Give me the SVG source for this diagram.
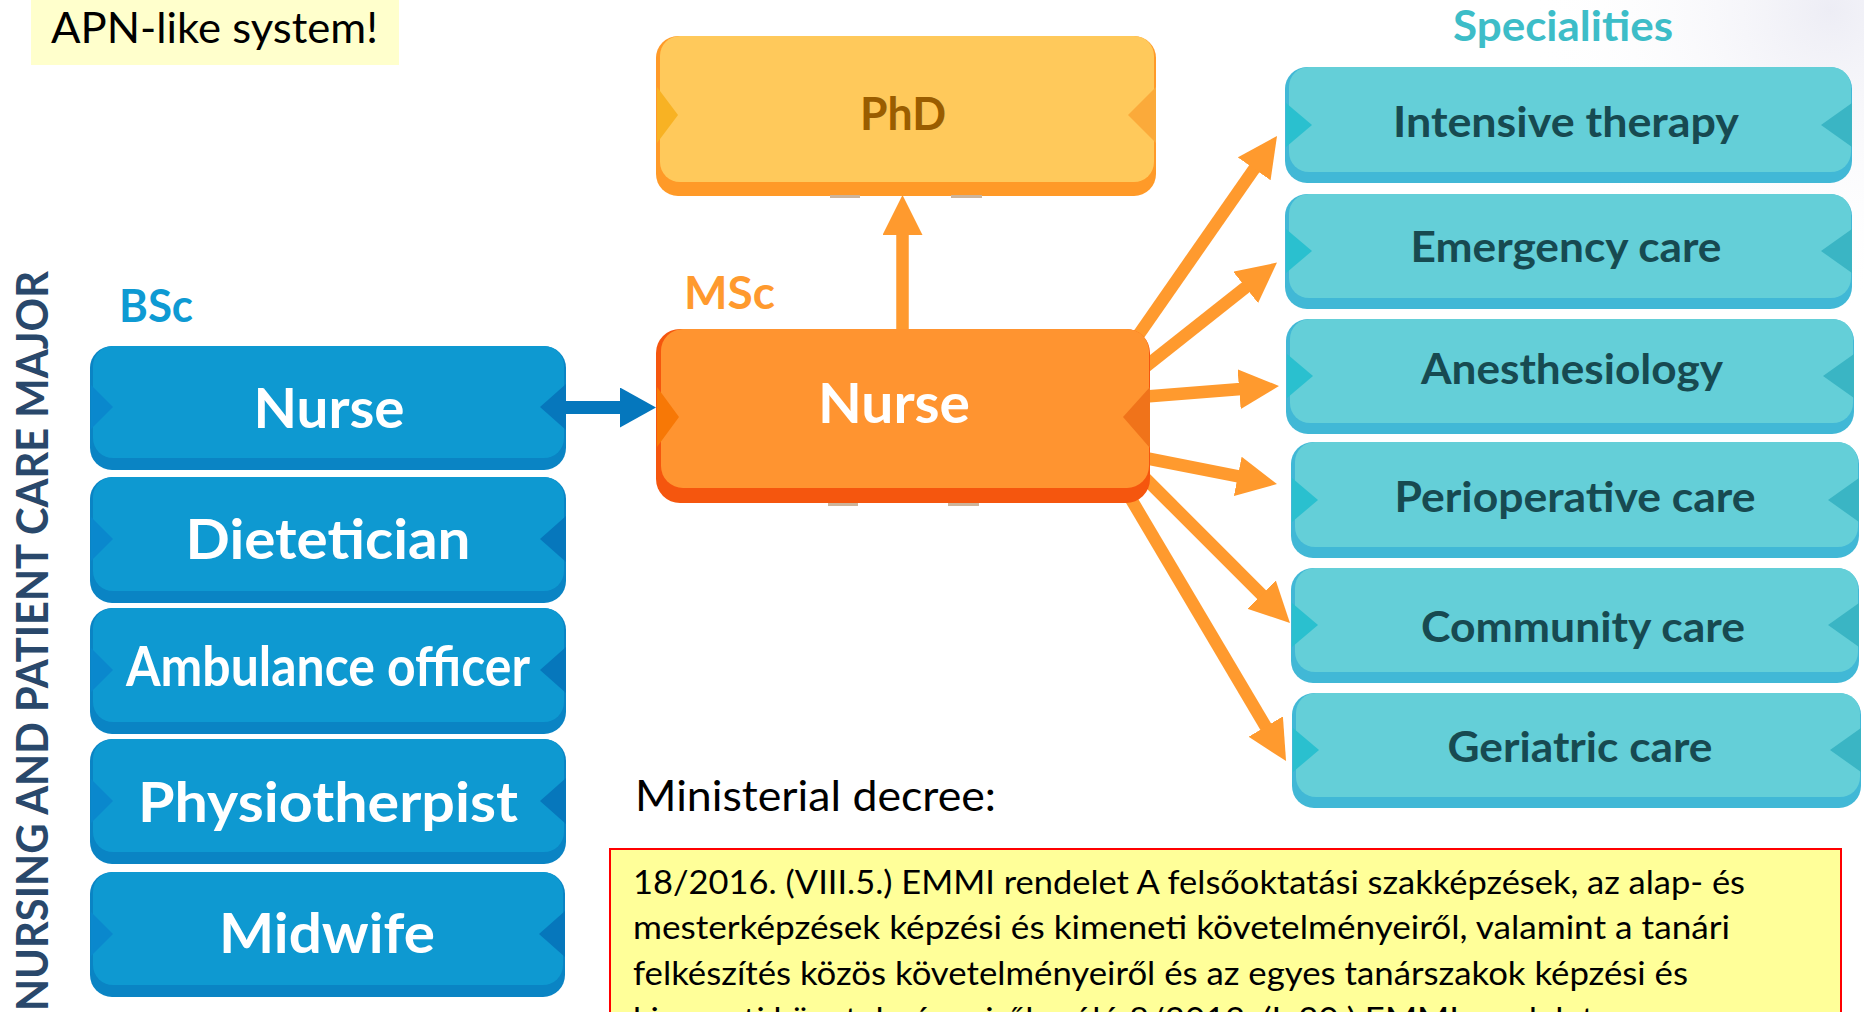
<svg xmlns="http://www.w3.org/2000/svg" width="1864" height="1012" viewBox="0 0 1864 1012">
<defs>
<style>
.bold{font-family:Lato,"Open Sans","Liberation Sans",sans-serif;font-weight:700}
.reg{font-family:Lato,"Open Sans","Liberation Sans",sans-serif;font-weight:400}
.bb{fill:#0A84C4}.bf{fill:#0E99D1}.bl{fill:#0A88CD}.br{fill:#0677BC}
.bt{fill:#FFFFFF;font-size:56px;text-anchor:middle}
.tb{fill:#41B8D6}.tf{fill:#64CFD8}.tl{fill:#2AC0CF}.tr{fill:#3AB5C4}
.tt{fill:#174A51;font-size:42.5px;text-anchor:middle}
.ob{stroke:#FF9A2E;stroke-width:12.5;fill:none}
.ub{stroke:#0577BD;stroke-width:13;fill:none}
.mark{fill:#CDB49A}
</style>
<marker id="mo" markerUnits="userSpaceOnUse" markerWidth="40" markerHeight="40" refX="2" refY="20" orient="auto" viewBox="0 0 40 40"><path d="M0,0 L40,20 L0,40 Z" fill="#FF9A2E"/></marker>
<marker id="mb" markerUnits="userSpaceOnUse" markerWidth="36" markerHeight="40" refX="2" refY="20" orient="auto" viewBox="0 0 36 40"><path d="M0,0 L36,20 L0,40 Z" fill="#0577BD"/></marker>
<radialGradient id="glow" cx="1830" cy="10" r="300" gradientUnits="userSpaceOnUse"><stop offset="0" stop-color="#EDEDF5"/><stop offset="1" stop-color="#FFFFFF" stop-opacity="0"/></radialGradient>
</defs>
<rect x="0" y="0" width="1864" height="1012" fill="#FFFFFF"/>
<rect x="1500" y="0" width="364" height="320" fill="url(#glow)"/>

<g id="apn-note">
<rect x="31" y="0" width="368" height="65" fill="#FFFFCC"/>
<text class="reg" x="51" y="43" font-size="43" textLength="327" lengthAdjust="spacingAndGlyphs" fill="#000000">APN-like system!</text>
</g>

<g id="major-label">
<text class="bold" transform="translate(48,1011) rotate(-90)" font-size="43" textLength="740" lengthAdjust="spacingAndGlyphs" fill="#29486B">NURSING AND PATIENT CARE MAJOR</text>
</g>

<g id="bsc-label"><text class="bold" x="119" y="322" font-size="46" textLength="74" lengthAdjust="spacingAndGlyphs" fill="#0E9AD3">BSc</text></g>
<g id="msc-label"><text class="bold" x="684" y="309" font-size="46" textLength="91" lengthAdjust="spacingAndGlyphs" fill="#FF9A2E">MSc</text></g>
<g id="spec-label"><text class="bold" x="1453" y="41" font-size="42" textLength="220" lengthAdjust="spacingAndGlyphs" fill="#3DBDC8">Specialities</text></g>

<g id="connectors">
<line class="ub" x1="560" y1="407.5" x2="622" y2="407.5" marker-end="url(#mb)"/>
<line class="ob" x1="902.5" y1="340" x2="902.5" y2="233" marker-end="url(#mo)"/>
<line class="ob" x1="1128" y1="350" x2="1255.3" y2="167.2" marker-end="url(#mo)"/>
<line class="ob" x1="1140" y1="371" x2="1247.2" y2="286.2" marker-end="url(#mo)"/>
<line class="ob" x1="1140" y1="397" x2="1241.1" y2="389" marker-end="url(#mo)"/>
<line class="ob" x1="1140" y1="457" x2="1239.7" y2="476.7" marker-end="url(#mo)"/>
<line class="ob" x1="1140" y1="473" x2="1263.1" y2="596.1" marker-end="url(#mo)"/>
<line class="ob" x1="1128" y1="494" x2="1266.7" y2="728.3" marker-end="url(#mo)"/>
</g>

<g id="phd">
<rect x="656" y="36" width="500" height="160" rx="22" fill="#FF9A28"/>
<rect x="660" y="36" width="494" height="146" rx="20" fill="#FFC95B"/>
<polygon points="657,87 678,115 657,143" fill="#F8B223"/>
<polygon points="1156,87 1128,115 1156,143" fill="#FBAA3A"/>
<rect class="mark" x="830" y="195" width="30" height="3"/>
<rect class="mark" x="951" y="195" width="31" height="3"/>
<text class="bold" x="903" y="130" font-size="46" text-anchor="middle" textLength="86" lengthAdjust="spacingAndGlyphs" fill="#9A5D00">PhD</text>
</g>

<g id="msc-nurse">
<rect x="656" y="329" width="494" height="174" rx="24" fill="#F5560E"/>
<rect x="661" y="329" width="488" height="159" rx="22" fill="#FF9430"/>
<polygon points="657,387 679,417 657,447" fill="#F77806"/>
<polygon points="1150,387 1123,417 1150,448" fill="#F0731A"/>
<rect class="mark" x="828" y="503" width="30" height="3" fill="#D2A58A"/>
<rect class="mark" x="948" y="503" width="31" height="3" fill="#D2A58A"/>
<text class="bold" x="894" y="423" font-size="56" text-anchor="middle" textLength="152" lengthAdjust="spacingAndGlyphs" fill="#FFFFFF">Nurse</text>
</g>

<g id="bsc-nurse">
<rect class="bb" x="90" y="346" width="476" height="124" rx="22"/>
<rect class="bf" x="93" y="346" width="471" height="112" rx="20"/>
<polygon class="bl" points="91,385 113,407 91,429"/>
<polygon class="br" points="566,384 540,407 566,430"/>
<text class="bold bt" x="329" y="428" textLength="151" lengthAdjust="spacingAndGlyphs">Nurse</text>
</g>
<g id="bsc-dietetician">
<rect class="bb" x="90" y="477" width="476" height="126" rx="22"/>
<rect class="bf" x="93" y="477" width="471" height="114" rx="20"/>
<polygon class="bl" points="91,517 113,539 91,561"/>
<polygon class="br" points="566,516 540,539 566,562"/>
<text class="bold bt" x="328" y="559" textLength="285" lengthAdjust="spacingAndGlyphs">Dietetician</text>
</g>
<g id="bsc-ambulance">
<rect class="bb" x="90" y="608" width="476" height="126" rx="22"/>
<rect class="bf" x="93" y="608" width="471" height="114" rx="20"/>
<polygon class="bl" points="91,648 113,670 91,692"/>
<polygon class="br" points="566,647 540,670 566,693"/>
<text class="bold bt" x="328" y="686" font-size="48" textLength="404" lengthAdjust="spacingAndGlyphs">Ambulance officer</text>
</g>
<g id="bsc-physio">
<rect class="bb" x="90" y="739" width="476" height="125" rx="22"/>
<rect class="bf" x="93" y="739" width="471" height="113" rx="20"/>
<polygon class="bl" points="91,779 113,801 91,823"/>
<polygon class="br" points="566,778 540,801 566,824"/>
<text class="bold bt" x="328" y="822" textLength="380" lengthAdjust="spacingAndGlyphs">Physiotherpist</text>
</g>
<g id="bsc-midwife">
<rect class="bb" x="90" y="872" width="475" height="125" rx="22"/>
<rect class="bf" x="93" y="872" width="470" height="113" rx="20"/>
<polygon class="bl" points="91,912 113,934 91,956"/>
<polygon class="br" points="565,911 539,934 565,957"/>
<text class="bold bt" x="327" y="953" textLength="216" lengthAdjust="spacingAndGlyphs">Midwife</text>
</g>

<g id="spec-intensive">
<rect class="tb" x="1285" y="67" width="567" height="116" rx="22"/>
<rect class="tf" x="1289" y="67" width="562" height="105" rx="20"/>
<polygon class="tl" points="1286,103 1312,125 1286,147"/>
<polygon class="tr" points="1852,103 1821,125 1852,147"/>
<text class="bold tt" x="1566" y="137" textLength="346" lengthAdjust="spacingAndGlyphs">Intensive therapy</text>
</g>
<g id="spec-emergency">
<rect class="tb" x="1285" y="194" width="567" height="115" rx="22"/>
<rect class="tf" x="1289" y="194" width="562" height="104" rx="20"/>
<polygon class="tl" points="1286,229 1312,251 1286,273"/>
<polygon class="tr" points="1852,229 1821,251 1852,273"/>
<text class="bold tt" x="1566" y="262" textLength="311" lengthAdjust="spacingAndGlyphs">Emergency care</text>
</g>
<g id="spec-anesthesiology">
<rect class="tb" x="1286" y="319" width="568" height="115" rx="22"/>
<rect class="tf" x="1290" y="319" width="563" height="104" rx="20"/>
<polygon class="tl" points="1287,354 1313,376 1287,398"/>
<polygon class="tr" points="1854,354 1823,376 1854,398"/>
<text class="bold tt" x="1572" y="384" textLength="302" lengthAdjust="spacingAndGlyphs">Anesthesiology</text>
</g>
<g id="spec-perioperative">
<rect class="tb" x="1291" y="442" width="568" height="116" rx="22"/>
<rect class="tf" x="1295" y="442" width="563" height="105" rx="20"/>
<polygon class="tl" points="1292,478 1318,500 1292,522"/>
<polygon class="tr" points="1859,478 1828,500 1859,522"/>
<text class="bold tt" x="1575" y="512" textLength="361" lengthAdjust="spacingAndGlyphs">Perioperative care</text>
</g>
<g id="spec-community">
<rect class="tb" x="1291" y="568" width="568" height="115" rx="22"/>
<rect class="tf" x="1295" y="568" width="563" height="104" rx="20"/>
<polygon class="tl" points="1292,603 1318,625 1292,647"/>
<polygon class="tr" points="1859,603 1828,625 1859,647"/>
<text class="bold tt" x="1583" y="642" textLength="324" lengthAdjust="spacingAndGlyphs">Community care</text>
</g>
<g id="spec-geriatric">
<rect class="tb" x="1292" y="693" width="569" height="115" rx="22"/>
<rect class="tf" x="1296" y="693" width="564" height="104" rx="20"/>
<polygon class="tl" points="1293,728 1319,750 1293,772"/>
<polygon class="tr" points="1861,728 1830,750 1861,772"/>
<text class="bold tt" x="1580" y="762" textLength="265" lengthAdjust="spacingAndGlyphs">Geriatric care</text>
</g>

<g id="decree-title">
<text class="reg" x="635" y="811" font-size="42.5" textLength="361" lengthAdjust="spacingAndGlyphs" fill="#000000">Ministerial decree:</text>
</g>
<g id="decree-box">
<rect x="610" y="849" width="1231" height="200" fill="#FFFF99" stroke="#FF0000" stroke-width="2"/>
<g class="reg" font-size="33.5" fill="#000000">
<text x="633" y="894" textLength="1112" lengthAdjust="spacingAndGlyphs">18/2016. (VIII.5.) EMMI rendelet A felsőoktatási szakképzések, az alap- és</text>
<text x="633" y="939" textLength="1097" lengthAdjust="spacingAndGlyphs">mesterképzések képzési és kimeneti követelményeiről, valamint a tanári</text>
<text x="633" y="985" textLength="1055" lengthAdjust="spacingAndGlyphs">felkészítés közös követelményeiről és az egyes tanárszakok képzési és</text>
<text x="633" y="1031" textLength="961" lengthAdjust="spacingAndGlyphs">kimeneti követelményeiről szóló 8/2013. (I. 30.) EMMI rendelet</text>
</g>
</g>
</svg>
